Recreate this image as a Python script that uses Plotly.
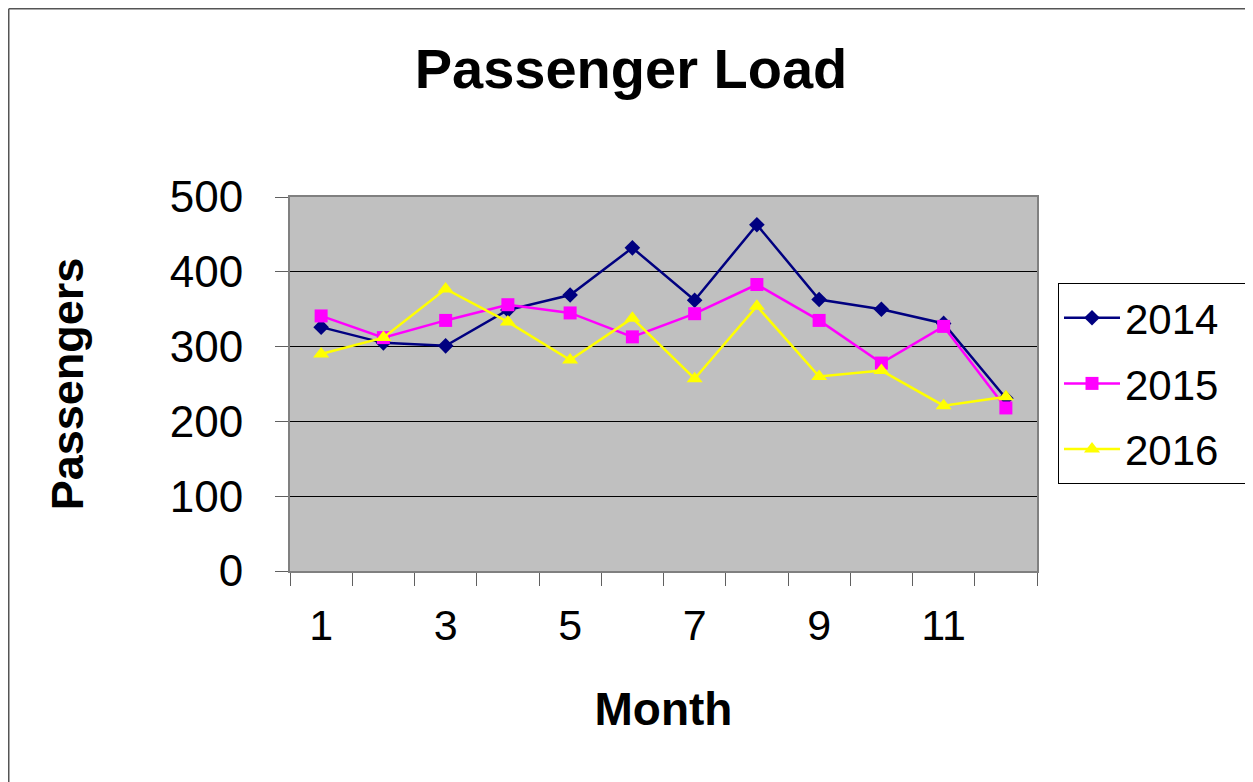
import plotly.graph_objects as go

months = list(range(1, 13))
series_names = ["2014", "2015", "2016"]
values_2014 = [326, 305, 301, 349, 369, 432, 362, 463, 363, 350, 331, 231]
values_2015 = [341, 312, 335, 356, 345, 313, 344, 383, 335, 278, 327, 218]
values_2016 = [290, 312, 377, 333, 282, 338, 257, 354, 260, 268, 221, 233]
x_tick_vals = [1, 3, 5, 7, 9, 11]
x_tick_text = ["1", "3", "5", "7", "9", "11"]
x_boundaries = [m - 0.5 for m in months] + [12.5]
y_ticks = [0, 100, 200, 300, 400, 500]

FONT = "Liberation Sans, Arial, sans-serif"

fig = go.Figure()
styles = [
    dict(color="#000080", symbol="diamond", size=12),
    dict(color="#FF00FF", symbol="square", size=13),
    dict(color="#FFFF00", symbol="triangle-up", size=14),
]
NBSP = "\u00a0"
for name, vals, st in zip(series_names, [values_2014, values_2015, values_2016], styles):
    fig.add_trace(go.Scatter(
        x=months, y=vals, name=name + NBSP * 2, mode="lines+markers",
        legendgroup=name,
        line=dict(color=st["color"], width=2.5),
        marker=dict(color=st["color"], symbol=st["symbol"], size=st["size"],
                    line=dict(width=0)),
    ))

# page is offset by 8px (body margin)
OFF = 8
W, H = 1253 - OFF, 782 - OFF
L, R, T, B = 290 - OFF, 1037 - OFF, 197 - OFF, 571 - OFF
pw, ph = R - L, B - T

def px_x(p):
    return (p - OFF - L) / pw

def px_y(p):
    return (B - (p - OFF)) / ph

fig.update_layout(
    width=W, height=H,
    margin=dict(l=L, r=W - R, t=T, b=H - B, pad=0, autoexpand=False),
    paper_bgcolor="white",
    plot_bgcolor="#C0C0C0",
    font=dict(family=FONT, color="black", size=43),
    title=dict(text="<b>Passenger Load</b>", x=(631 - OFF) / W, xref="container", xanchor="center",
               y=1 - (68 - OFF) / H, yref="container", yanchor="middle",
               font=dict(size=56, family=FONT, color="black")),
    showlegend=True,
    legend=dict(x=px_x(1058), y=px_y(283), xanchor="left", yanchor="top",
                xref="paper", yref="paper",
                bordercolor="black", borderwidth=1, bgcolor="white",
                font=dict(size=42, family=FONT), tracegroupgap=8,
                itemwidth=56),
    xaxis=dict(
        range=[0.5, 12.5], tickmode="array", tickvals=x_tick_vals, ticktext=x_tick_text,
        ticks="", showgrid=False, zeroline=False,
        showline=True, linecolor="#808080", linewidth=2, mirror=True,
        ticklabelstandoff=15,
        tickfont=dict(size=43, family=FONT),
        minor=dict(tickmode="array", tickvals=x_boundaries, ticks="outside",
                   ticklen=13, tickcolor="#606060", tickwidth=1, showgrid=False),
        title=dict(text="<b>Month</b>", font=dict(size=46, family=FONT), standoff=45),
    ),
    yaxis=dict(
        range=[0, 500], tickmode="array", tickvals=y_ticks,
        ticks="outside", ticklen=13, tickcolor="#606060", tickwidth=1,
        showgrid=True, gridcolor="black", gridwidth=1, zeroline=False,
        showline=True, linecolor="#808080", linewidth=2, mirror=True,
        ticklabelstandoff=23,
        tickfont=dict(size=44, family=FONT),
        title=dict(text="<b>Passengers</b>", font=dict(size=45, family=FONT), standoff=72),
    ),
    shapes=[
        dict(type="line", xref="paper", yref="paper", x0=px_x(8.75), x1=px_x(8.75),
             y0=px_y(8.75), y1=px_y(820), line=dict(color="#555555", width=1.5)),
        dict(type="line", xref="paper", yref="paper", x0=px_x(8.75), x1=px_x(1300),
             y0=px_y(8.75), y1=px_y(8.75), line=dict(color="#555555", width=1.5)),
    ],
)

fig.write_html("out.html")
